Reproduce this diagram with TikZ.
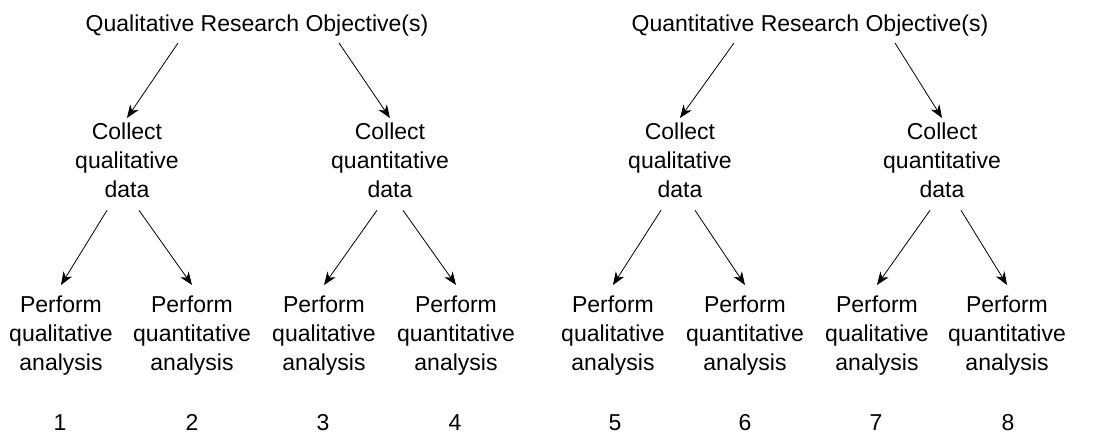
\documentclass[tikz,border=0pt]{standalone}
\usepackage{fontspec}
\setmainfont{Liberation Sans}
\usetikzlibrary{arrows.meta}
\begin{document}
\begin{tikzpicture}[x=1pt,y=-1pt,
  every node/.style={font=\fontsize{23}{29}\selectfont, inner sep=0pt, align=center},
  arr/.style={line width=0.8pt, -{Stealth[length=13pt,width=10pt,inset=4pt]}}]
\useasboundingbox (0,0) rectangle (1098,434);

% research objectives
\node[anchor=base] (qlt) at (257,31) {Qualitative Research Objective(s)};
\node[anchor=base] (qnt) at (810,31) {Quantitative Research Objective(s)};

% data collection
\node[anchor=north] (c1) at (127,123) {Collect\\qualitative\\data};
\node[anchor=north] (c2) at (390,123) {Collect\\quantitative\\data};
\node[anchor=north] (c3) at (680,123) {Collect\\qualitative\\data};
\node[anchor=north] (c4) at (942,123) {Collect\\quantitative\\data};

% analysis
\node[anchor=north] (p1) at (61,296)   {Perform\\qualitative\\analysis};
\node[anchor=north] (p2) at (192,296)  {Perform\\quantitative\\analysis};
\node[anchor=north] (p3) at (324,296)  {Perform\\qualitative\\analysis};
\node[anchor=north] (p4) at (456,296)  {Perform\\quantitative\\analysis};
\node[anchor=north] (p5) at (613,296)  {Perform\\qualitative\\analysis};
\node[anchor=north] (p6) at (745,296)  {Perform\\quantitative\\analysis};
\node[anchor=north] (p7) at (877,296)  {Perform\\qualitative\\analysis};
\node[anchor=north] (p8) at (1007,296) {Perform\\quantitative\\analysis};

% design numbers
\node[anchor=base] (n1) at (60,430) {1};
\node[anchor=base] (n2) at (192,430) {2};
\node[anchor=base] (n3) at (323,430) {3};
\node[anchor=base] (n4) at (455,430) {4};
\node[anchor=base] (n5) at (615,430) {5};
\node[anchor=base] (n6) at (745,430) {6};
\node[anchor=base] (n7) at (876,430) {7};
\node[anchor=base] (n8) at (1008,430) {8};

% objectives -> collection
\draw[arr] ([xshift=-79pt,yshift=-7pt]qlt.south) -- ([yshift=5pt]c1.north);
\draw[arr] ([xshift=82pt,yshift=-7pt]qlt.south)  -- ([yshift=5pt]c2.north);
\draw[arr] ([xshift=-76pt,yshift=-7pt]qnt.south) -- ([yshift=5pt]c3.north);
\draw[arr] ([xshift=85pt,yshift=-7pt]qnt.south)  -- ([yshift=5pt]c4.north);

% collection -> analysis
\draw[arr] ([xshift=-20pt,yshift=-12pt]c1.south) -- ([yshift=11pt]p1.north);
\draw[arr] ([xshift=12pt,yshift=-12pt]c1.south)  -- ([yshift=11pt]p2.north);
\draw[arr] ([xshift=-13pt,yshift=-12pt]c2.south) -- ([yshift=11pt]p3.north);
\draw[arr] ([xshift=13pt,yshift=-12pt]c2.south)  -- ([yshift=11pt]p4.north);
\draw[arr] ([xshift=-19pt,yshift=-12pt]c3.south) -- ([yshift=11pt]p5.north);
\draw[arr] ([xshift=15pt,yshift=-12pt]c3.south)  -- ([yshift=11pt]p6.north);
\draw[arr] ([xshift=-12pt,yshift=-12pt]c4.south) -- ([yshift=11pt]p7.north);
\draw[arr] ([xshift=19pt,yshift=-12pt]c4.south)  -- ([yshift=11pt]p8.north);
\end{tikzpicture}
\end{document}
